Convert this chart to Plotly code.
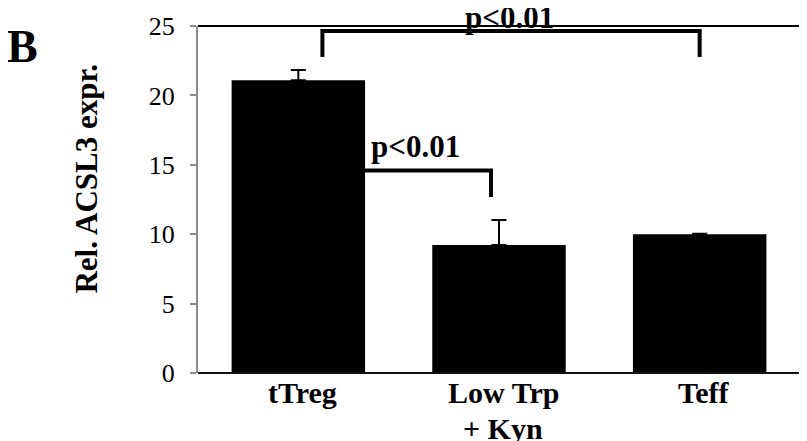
import plotly.graph_objects as go

categories = ["tTreg", "Low Trp<br>+ Kyn", "Teff"]
values = [21.1, 9.22, 9.99]
errors = [0.73, 1.8, 0.05]
y_ticks = [0, 5, 10, 15, 20, 25]

FONT = "Liberation Serif"
xpos = list(range(len(categories)))

fig = go.Figure()
fig.add_trace(go.Bar(
    x=xpos, y=values,
    marker=dict(color="black", line=dict(width=0)),
    width=0.665,
    error_y=dict(type="data", symmetric=False, array=errors,
                 arrayminus=[0] * len(errors), color="black",
                 thickness=2, width=7.5),
))

# significance brackets: (x_left, x_right, y_bar, y_left_end, y_right_end)
brackets = [
    (0.12, 2.0, 24.64, 22.77, 22.77),
    (0.3325, 0.96, 14.59, 14.59, 12.68),
]
for xl, xr, yb, yle, yre in brackets:
    fig.add_shape(type="path",
                  path=f"M {xl},{yle} L {xl},{yb} L {xr},{yb} L {xr},{yre}",
                  line=dict(color="black", width=4), xref="x", yref="y")

fig.add_annotation(x=1.05, y=0.968, text="p<0.01", showarrow=False,
                   xref="x", yref="paper", yanchor="bottom", xanchor="center",
                   font=dict(family=FONT, size=31, color="black", weight="bold"))
fig.add_annotation(x=0.585, y=14.9, text="p<0.01", showarrow=False,
                   xref="x", yref="y", yanchor="bottom", xanchor="center",
                   font=dict(family=FONT, size=31, color="black", weight="bold"))

# category labels (each line placed separately to match tight line spacing)
line_y = [-0.0576, -0.1586]
for xi, cat in zip(xpos, categories):
    for li, part in enumerate(cat.split("<br>")):
        fig.add_annotation(x=xi, y=line_y[li], text=part, showarrow=False,
                           xref="x", yref="paper", xanchor="center", yanchor="middle",
                           xshift=4,
                           font=dict(family=FONT, size=30, color="black", weight="bold"))

fig.add_annotation(x=-0.291, y=0.942, text="B", showarrow=False,
                   xref="paper", yref="paper", xanchor="center", yanchor="middle",
                   font=dict(family=FONT, size=46, color="black", weight="bold"))
fig.add_annotation(x=-0.186, y=0.5605, text="Rel. ACSL3 expr.", showarrow=False,
                   textangle=-90, xref="paper", yref="paper",
                   xanchor="center", yanchor="middle",
                   font=dict(family=FONT, size=31, color="black", weight="bold"))

# box (top/right/bottom)
fig.add_shape(type="line", xref="paper", yref="paper", x0=0, x1=1, y0=1, y1=1,
              line=dict(color="black", width=2))
fig.add_shape(type="line", xref="paper", yref="paper", x0=1, x1=1, y0=0, y1=1,
              line=dict(color="black", width=2))
fig.add_shape(type="line", xref="paper", yref="paper", x0=0, x1=1, y0=0, y1=0,
              line=dict(color="#111111", width=2))

fig.update_layout(
    width=807, height=441,
    margin=dict(l=190, r=15, t=18, b=76),
    paper_bgcolor="white", plot_bgcolor="white",
    showlegend=False,
    font=dict(family=FONT, color="black"),
    xaxis=dict(range=[-0.5, 2.5], tickvals=xpos, showticklabels=False,
               showline=False, ticks="", showgrid=False, zeroline=False,
               automargin=False, fixedrange=True),
    yaxis=dict(range=[0, 25], tickvals=y_ticks,
               tickfont=dict(family=FONT, size=26, color="black"),
               showline=True, linecolor="#8c8c8c", linewidth=2,
               ticks="outside", ticklen=6, tickcolor="#8c8c8c", tickwidth=2,
               ticklabelstandoff=10, automargin=False,
               showgrid=False, zeroline=False),
)

fig.write_html("out.html")
